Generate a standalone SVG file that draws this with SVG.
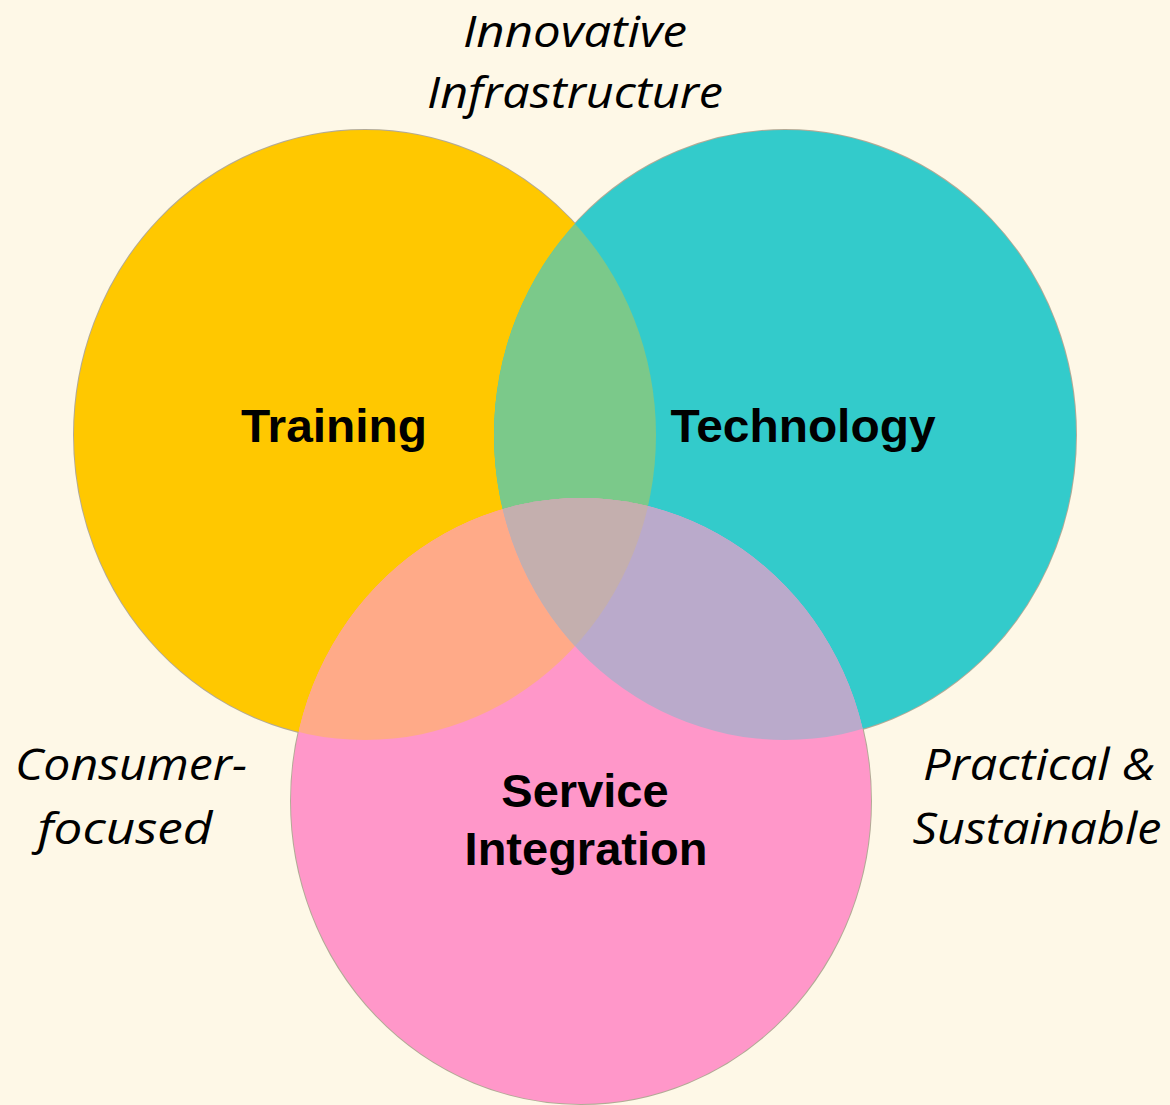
<svg xmlns="http://www.w3.org/2000/svg" width="1170" height="1105" viewBox="0 0 1170 1105">
<style>
.outline{fill:none;stroke:#B3AA96;stroke-width:2}
.lbl{font-family:"Liberation Sans",Arial,sans-serif;font-weight:bold;font-size:47px;fill:#000;text-anchor:middle}
.it{font-family:"Open Sans","Noto Sans",sans-serif;font-style:italic;font-size:44px;fill:#000;text-anchor:middle}
</style>
<defs>
<clipPath id="cY"><ellipse cx="365" cy="435" rx="291" ry="305"/></clipPath>
<clipPath id="cT"><ellipse cx="785" cy="435" rx="291" ry="305"/></clipPath>
</defs>
<rect width="1170" height="1105" fill="#FEF8E7"/>
<g id="outlines">
<ellipse class="outline" cx="365" cy="435" rx="291" ry="305"/>
<ellipse class="outline" cx="785" cy="435" rx="291" ry="305"/>
<ellipse class="outline" cx="581" cy="801" rx="290" ry="303"/>
</g>
<g id="training">
<ellipse cx="365" cy="435" rx="291" ry="305" fill="#FFC800"/>
<text class="lbl" x="334" y="442" textLength="186" lengthAdjust="spacingAndGlyphs">Training</text>
</g>
<g id="technology">
<ellipse cx="785" cy="435" rx="291" ry="305" fill="#33CBCB"/>
<text class="lbl" x="803" y="442" textLength="265" lengthAdjust="spacingAndGlyphs">Technology</text>
</g>
<g id="service-integration">
<ellipse cx="581" cy="801" rx="290" ry="303" fill="#FF97C9"/>
<text class="lbl" x="585" y="807">Service</text>
<text class="lbl" x="586" y="865">Integration</text>
</g>
<g id="overlaps">
<ellipse cx="785" cy="435" rx="291" ry="305" fill="#7BC98A" clip-path="url(#cY)"/>
<ellipse cx="581" cy="801" rx="290" ry="303" fill="#FFAA88" clip-path="url(#cY)"/>
<ellipse cx="581" cy="801" rx="290" ry="303" fill="#BAAACB" clip-path="url(#cT)"/>
<g clip-path="url(#cY)">
<ellipse cx="581" cy="801" rx="290" ry="303" fill="#C4AFAE" clip-path="url(#cT)"/>
</g>
</g>
<g id="annotations">
<text class="it" x="575" y="47" textLength="224" lengthAdjust="spacingAndGlyphs">Innovative</text>
<text class="it" x="575" y="108" textLength="296" lengthAdjust="spacingAndGlyphs">Infrastructure</text>
<text class="it" x="131" y="780" textLength="232" lengthAdjust="spacingAndGlyphs">Consumer-</text>
<text class="it" x="125" y="844" textLength="175" lengthAdjust="spacingAndGlyphs">focused</text>
<text class="it" x="1039" y="780" textLength="232" lengthAdjust="spacingAndGlyphs">Practical &amp;</text>
<text class="it" x="1037" y="844" textLength="249" lengthAdjust="spacingAndGlyphs">Sustainable</text>
</g>
</svg>
